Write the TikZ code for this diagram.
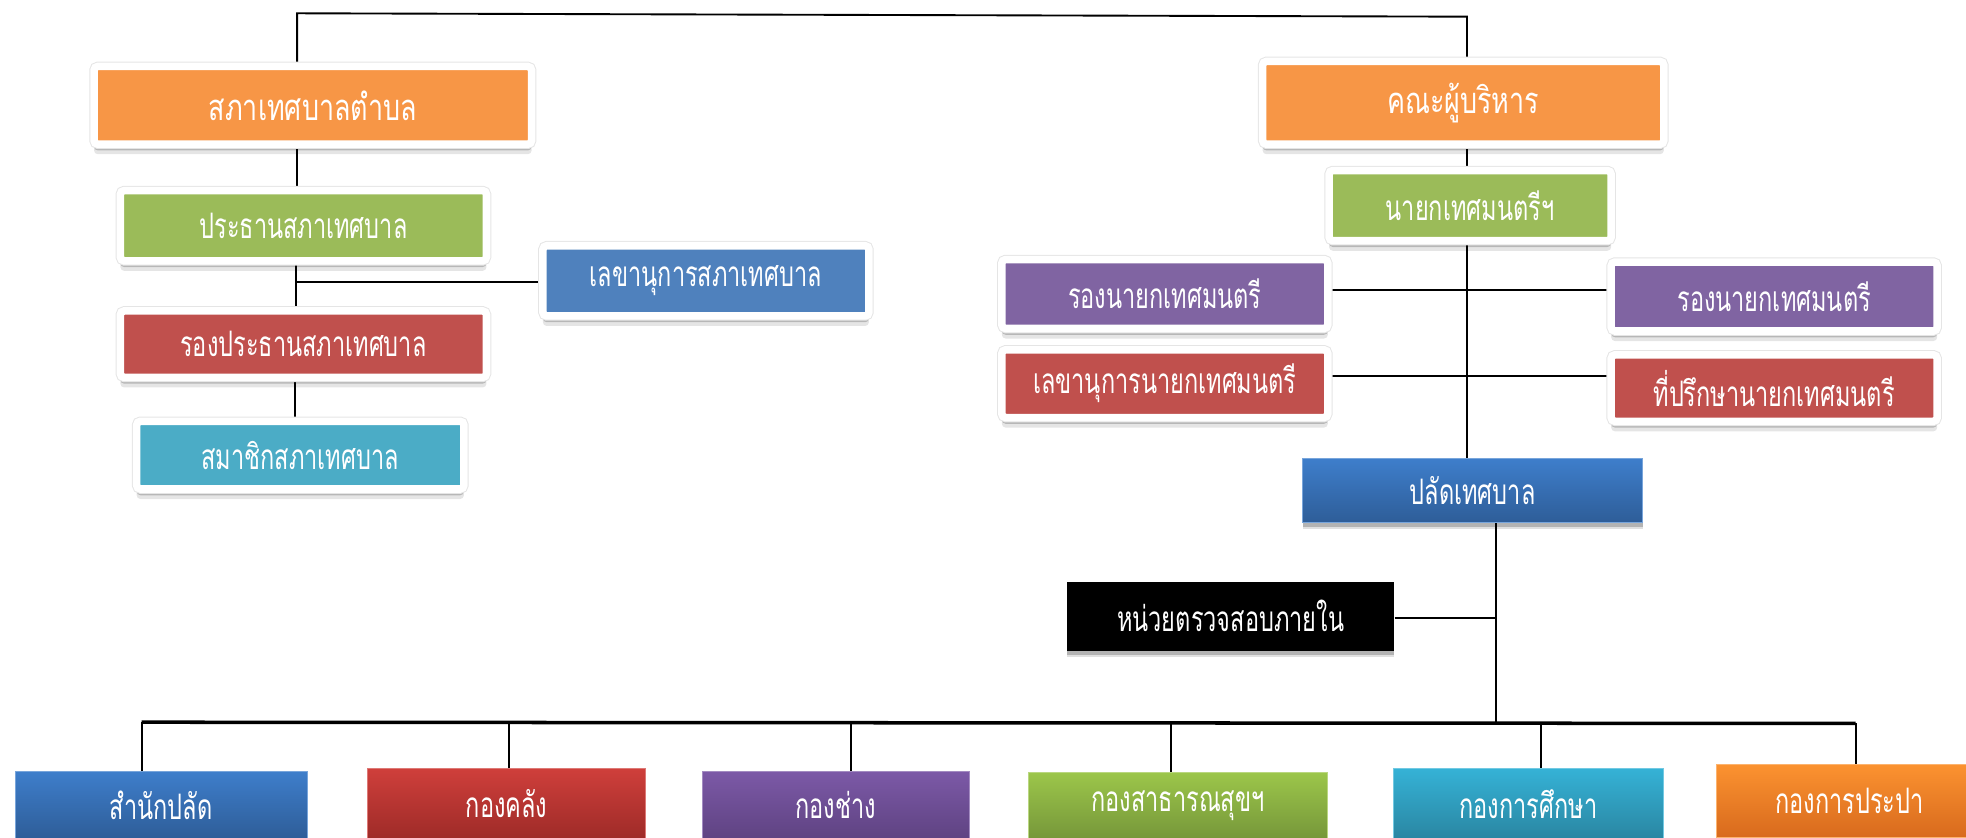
\documentclass[tikz,border=0pt]{standalone}
\usepackage{fontspec}
\newfontfamily\thaifont[Script=Thai,FakeStretch=0.67]{Loma}
\newfontfamily\thaititle[Script=Thai,FakeStretch=0.74]{Loma}
\usetikzlibrary{shadows}
\pgfdeclarelayer{background}
\pgfsetlayers{background,main}
\definecolor{cOrange}{HTML}{F79646}
\definecolor{cGreen}{HTML}{9BBB59}
\definecolor{cBlue}{HTML}{4F81BD}
\definecolor{cRed}{HTML}{C0504D}
\definecolor{cTeal}{HTML}{4BACC6}
\definecolor{cPurple}{HTML}{8064A2}
\definecolor{gBlueT}{HTML}{3E7ECB}
\definecolor{gBlueB}{HTML}{2E5D98}
\definecolor{gRedT}{HTML}{CF3F3B}
\definecolor{gRedB}{HTML}{9E2B28}
\definecolor{gPurpT}{HTML}{7C59A7}
\definecolor{gPurpB}{HTML}{5F4382}
\definecolor{gGreenT}{HTML}{9CC64A}
\definecolor{gGreenB}{HTML}{76973A}
\definecolor{gTealT}{HTML}{35B2D6}
\definecolor{gTealB}{HTML}{2A86A2}
\definecolor{gOrangeT}{HTML}{FB9230}
\definecolor{gOrangeB}{HTML}{D86A1D}
\tikzset{
  lbl/.style={text=white, inner sep=0pt, font=\thaifont\fontsize{28}{32}\selectfont},
  title/.style={font=\thaititle\fontsize{29}{32}\selectfont},
  fbox/.style={lbl, fill=#1, draw=white, line width=6pt, rounded corners=3pt,
    drop shadow={shadow xshift=0pt, shadow yshift=-8pt, opacity=0.10, fill=black},
    drop shadow={shadow xshift=0pt, shadow yshift=-5pt, opacity=0.20, fill=black},
    preaction={draw=black!10, line width=7.6pt}},
  gbox/.style 2 args={lbl, top color=#1, bottom color=#2, draw=#1!70!white, line width=0.8pt},
  sbox/.style 2 args={gbox={#1}{#2},
    drop shadow={shadow xshift=0pt, shadow yshift=-5pt, opacity=0.12, fill=black},
    drop shadow={shadow xshift=0pt, shadow yshift=-3pt, opacity=0.2, fill=black}},
  conn/.style={line width=1.5pt, draw=black},
  bus/.style={line width=2.8pt, draw=black},
}
\begin{document}
\begin{tikzpicture}[x=1pt,y=-1pt]
\useasboundingbox (0,0) rectangle (1568,668);
\clip (0,0) rectangle (1568,668);
% left
\node[fbox=cOrange, title, minimum width=349pt, minimum height=62pt] (A) at (249.5,84) {สภาเทศบาลตำบล};
\node[fbox=cGreen, minimum width=292pt, minimum height=56pt] (B) at (242,180) {ประธานสภาเทศบาล};
\node[fbox=cBlue, minimum width=260pt, minimum height=56pt] (C) at (563,224) {เลขานุการสภาเทศบาล};
\node[fbox=cRed, minimum width=292pt, minimum height=53pt] (D) at (242,274.5) {รองประธานสภาเทศบาล};
\node[fbox=cTeal, minimum width=261pt, minimum height=54pt] (E) at (239.5,363) {สมาชิกสภาเทศบาล};
% right
\node[fbox=cOrange, title, minimum width=320pt, minimum height=66pt] (F) at (1167,82) {คณะผู้บริหาร};
\node[fbox=cGreen, minimum width=225pt, minimum height=56pt] (G) at (1172.5,164) {นายกเทศมนตรีฯ};
\node[fbox=cPurple, minimum width=260pt, minimum height=55pt] (H1) at (929,234.5) {รองนายกเทศมนตรี};
\node[fbox=cPurple, minimum width=260pt, minimum height=55pt] (H2) at (1415,236.5) {รองนายกเทศมนตรี};
\node[fbox=cRed, minimum width=260pt, minimum height=54pt] (I1) at (929,306) {เลขานุการนายกเทศมนตรี};
\node[fbox=cRed, minimum width=260pt, minimum height=53pt] (I2) at (1415,309.5) {ที่ปรึกษานายกเทศมนตรี};
\node[sbox={gBlueT}{gBlueB}, minimum width=271pt, minimum height=51pt] (J) at (1174.5,391.5) {ปลัดเทศบาล};
\node[lbl, fill=black, minimum width=261pt, minimum height=55pt,
  drop shadow={shadow xshift=0pt, shadow yshift=-5pt, opacity=0.12, fill=black},
  drop shadow={shadow xshift=0pt, shadow yshift=-3pt, opacity=0.2, fill=black}] (K) at (981.5,491.5) {หน่วยตรวจสอบภายใน};
% bottom row
\node[gbox={gBlueT}{gBlueB}, minimum width=233pt, minimum height=54pt] (L1) at (128.5,642) {สำนักปลัด};
\node[gbox={gRedT}{gRedB}, minimum width=222pt, minimum height=56pt] (L2) at (404,641) {กองคลัง};
\node[gbox={gPurpT}{gPurpB}, minimum width=213pt, minimum height=54pt] (L3) at (666.5,642) {กองช่าง};
\node[gbox={gGreenT}{gGreenB}, minimum width=239pt, minimum height=53pt] (L4) at (939.5,642.5) {กองสาธารณสุขฯ};
\node[gbox={gTealT}{gTealB}, minimum width=216pt, minimum height=56pt] (L5) at (1219,641) {กองการศึกษา};
\node[gbox={gOrangeT}{gOrangeB}, minimum width=212pt, minimum height=58pt] (L6) at (1475,639) {กองการประปา};
% connectors
\coordinate (tl) at (237,10.6);
\coordinate (tr) at (1170,13.3);
\coordinate (lc) at (236,225);
\coordinate (ld) at (235,320);
\coordinate (r1) at (1170,231);
\coordinate (r2) at (1170,300);
\coordinate (kc) at (1193,493);
\coordinate (jb) at (1193,576);
\coordinate (b1) at (113,576);
\coordinate (b2) at (406,576);
\coordinate (b3) at (679,577);
\coordinate (b4) at (934,576);
\coordinate (b5) at (1229,577);
\coordinate (b6) at (1480,577);
\begin{pgfonlayer}{background}
\draw[conn] (A.north -| tl) -- (tl) -- (tr) -- (F.north -| tr);
\draw[conn] (A.south -| tl) -- (B.north -| tl);
\draw[conn] (B.south -| lc) -- (D.north -| lc);
\draw[conn] (lc) -- (C.west |- lc);
\draw[conn] (D.south -| ld) -- (E.north -| ld);
\draw[conn] (F.south -| tr) -- (G.north -| tr);
\draw[conn] (G.south -| tr) -- (J.north -| tr);
\draw[conn] (H1.east |- r1) -- (H2.west |- r1);
\draw[conn] (I1.east |- r2) -- (I2.west |- r2);
\draw[conn] (J.south -| jb) -- (jb);
\draw[conn] (K.east |- kc) -- (kc);
\draw[bus] (b1) -- (b6);
\draw[conn] (b1) -- (L1.north -| b1);
\draw[conn] (b2) -- (L2.north -| b2);
\draw[conn] (b3) -- (L3.north -| b3);
\draw[conn] (b4) -- (L4.north -| b4);
\draw[conn] (b5) -- (L5.north -| b5);
\draw[conn] (b6) -- (L6.north -| b6);
\end{pgfonlayer}
\end{tikzpicture}
\end{document}
